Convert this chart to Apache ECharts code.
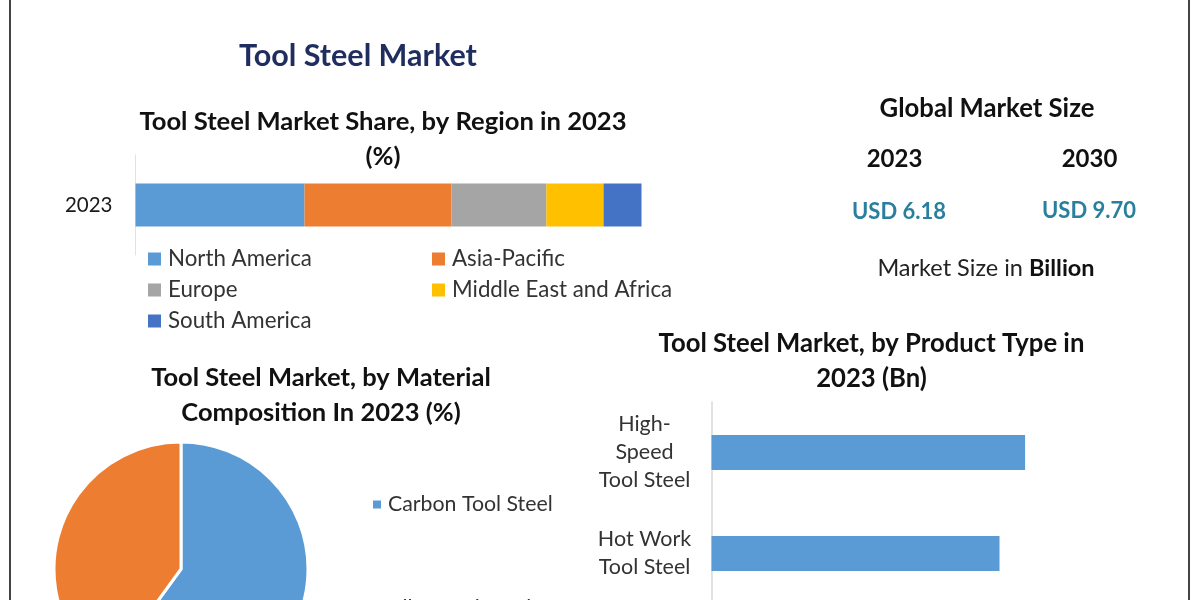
<!DOCTYPE html>
<html><head><meta charset="utf-8">
<script src="https://cdn.jsdelivr.net/npm/echarts@6/dist/echarts.min.js"></script>
<style>html,body{margin:0;padding:0;background:#fff}#c{width:1200px;height:600px}</style>
</head><body><div id="c"></div>
<script>
const FONT = 'Lato';
const pageTitle = 'Tool Steel Market';
const regionTitle = 'Tool Steel Market Share, by Region in 2023\n(%)';
const materialTitle = 'Tool Steel Market, by Material\nComposition In 2023 (%)';
const productTitle = 'Tool Steel Market, by Product Type in\n2023 (Bn)';
const sizeTitle = 'Global Market Size';
const sizeYears = ['2023', '2030'];
const sizeValues = ['USD 6.18', 'USD 9.70'];
const regionYear = ['2023'];
const regionNames = ['North America', 'Asia-Pacific', 'Europe', 'Middle East and Africa', 'South America'];
const regionValues = [33.4, 29.0, 18.8, 11.3, 7.5];
const regionColors = ['#5b9bd5', '#ed7d31', '#a5a5a5', '#ffc000', '#4472c4'];
const materialNames = ['Carbon Tool Steel', 'Alloy Tool Steel'];
const materialValues = [60, 40];
const productNames = ['High-\nSpeed\nTool Steel', 'Hot Work\nTool Steel'];
const productValues = [1.96, 1.80];

const t = (text, x, y, size, color, extra) => ({
  text, left: x - 5, top: y, textAlign: 'center',
  textStyle: Object.assign({fontFamily: FONT, fontSize: size, fontWeight: 'bold', color: color || '#111', lineHeight: 35}, extra || {})
});
const regionLegend = (names, left) => ({
  data: names, orient: 'vertical', left, top: 243, height: 120,
  itemWidth: 13, itemHeight: 13, itemGap: 9, icon: 'rect',
  textStyle: {fontFamily: FONT, fontSize: 22.3, color: '#333', padding: [0, 0, 0, 2]}
});
const materialLegend = (name, top) => ({
  data: [name], orient: 'horizontal', left: 366, top,
  itemWidth: 10, itemHeight: 10, icon: 'rect',
  textStyle: {fontFamily: FONT, fontSize: 21.3, color: '#333', padding: [0, 0, 0, 1]}
});
const chart = echarts.init(document.getElementById('c'), null, {renderer: 'canvas'});
chart.setOption({
  animation: false,
  backgroundColor: '#fff',
  title: [
    t(pageTitle, 358, 33, 30.5, '#1f2d5f', {lineHeight: 36}),
    t(regionTitle, 383, 99, 25.6),
    t(sizeTitle, 987, 86, 25.7),
    t(sizeYears[0], 894.5, 137, 24),
    t(sizeYears[1], 1089.5, 137, 24),
    t(sizeValues[0], 899, 189, 22, '#2a7f9e'),
    t(sizeValues[1], 1089, 188, 22, '#2a7f9e'),
    {text: 'Market Size in {b|Billion}', left: 981, top: 246, textAlign: 'center',
     textStyle: {fontFamily: FONT, fontSize: 23.5, fontWeight: 'normal', color: '#222', lineHeight: 35,
                 rich: {b: {fontFamily: FONT, fontSize: 23.5, fontWeight: 'bold', color: '#111'}}}},
    t(materialTitle, 321, 355, 25.5),
    t(productTitle, 871.5, 321, 25.7)
  ],
  legend: [
    regionLegend([regionNames[0], regionNames[2], regionNames[4]], 143),
    regionLegend([regionNames[1], regionNames[3]], 427),
    materialLegend(materialNames[0], 489),
    materialLegend(materialNames[1], 593)
  ],
  grid: [
    {left: 135.5, top: 155, width: 506, height: 100, outerBoundsMode: 'none'},
    {left: 711.5, top: 402, width: 400, height: 202, outerBoundsMode: 'none'}
  ],
  xAxis: [
    {gridIndex: 0, type: 'value', min: 0, max: 100, show: false},
    {gridIndex: 1, type: 'value', min: 0, max: 2.5, show: false}
  ],
  yAxis: [
    {gridIndex: 0, type: 'category', data: regionYear,
     axisLine: {show: true, lineStyle: {color: '#e2e2e2', width: 1}}, axisTick: {show: false},
     axisLabel: {fontFamily: FONT, fontSize: 20.5, color: '#1a1a1a', margin: 23}},
    {gridIndex: 1, type: 'category', data: productNames, inverse: true,
     axisLine: {show: true, lineStyle: {color: '#d9d9d9', width: 1.5}}, axisTick: {show: false},
     axisLabel: {fontFamily: FONT, fontSize: 21.5, color: '#333', margin: 67, align: 'center', lineHeight: 28, interval: 0}}
  ],
  series: [
    ...regionNames.map((name, i) => ({
      type: 'bar', name, stack: 'r', xAxisIndex: 0, yAxisIndex: 0, barWidth: 43, silent: true,
      itemStyle: {color: regionColors[i]}, data: [regionValues[i]]
    })),
    {type: 'bar', name: 'Product', xAxisIndex: 1, yAxisIndex: 1, barWidth: 35, silent: true,
     itemStyle: {color: '#5b9bd5'}, data: productValues},
    {type: 'pie', center: [181, 569], radius: 127, startAngle: 90, clockwise: true, silent: true,
     label: {show: false}, labelLine: {show: false},
     itemStyle: {borderColor: '#fff', borderWidth: 3},
     data: materialNames.map((name, i) => ({name, value: materialValues[i], itemStyle: {color: ['#5b9bd5', '#ed7d31'][i]}}))}
  ],
  graphic: [
    {type: 'rect', silent: true, shape: {x: 9, y: 0, width: 2, height: 600}, style: {fill: '#444'}},
    {type: 'rect', silent: true, shape: {x: 1188, y: 0, width: 2, height: 600}, style: {fill: '#444'}}
  ]
});
</script></body></html>
